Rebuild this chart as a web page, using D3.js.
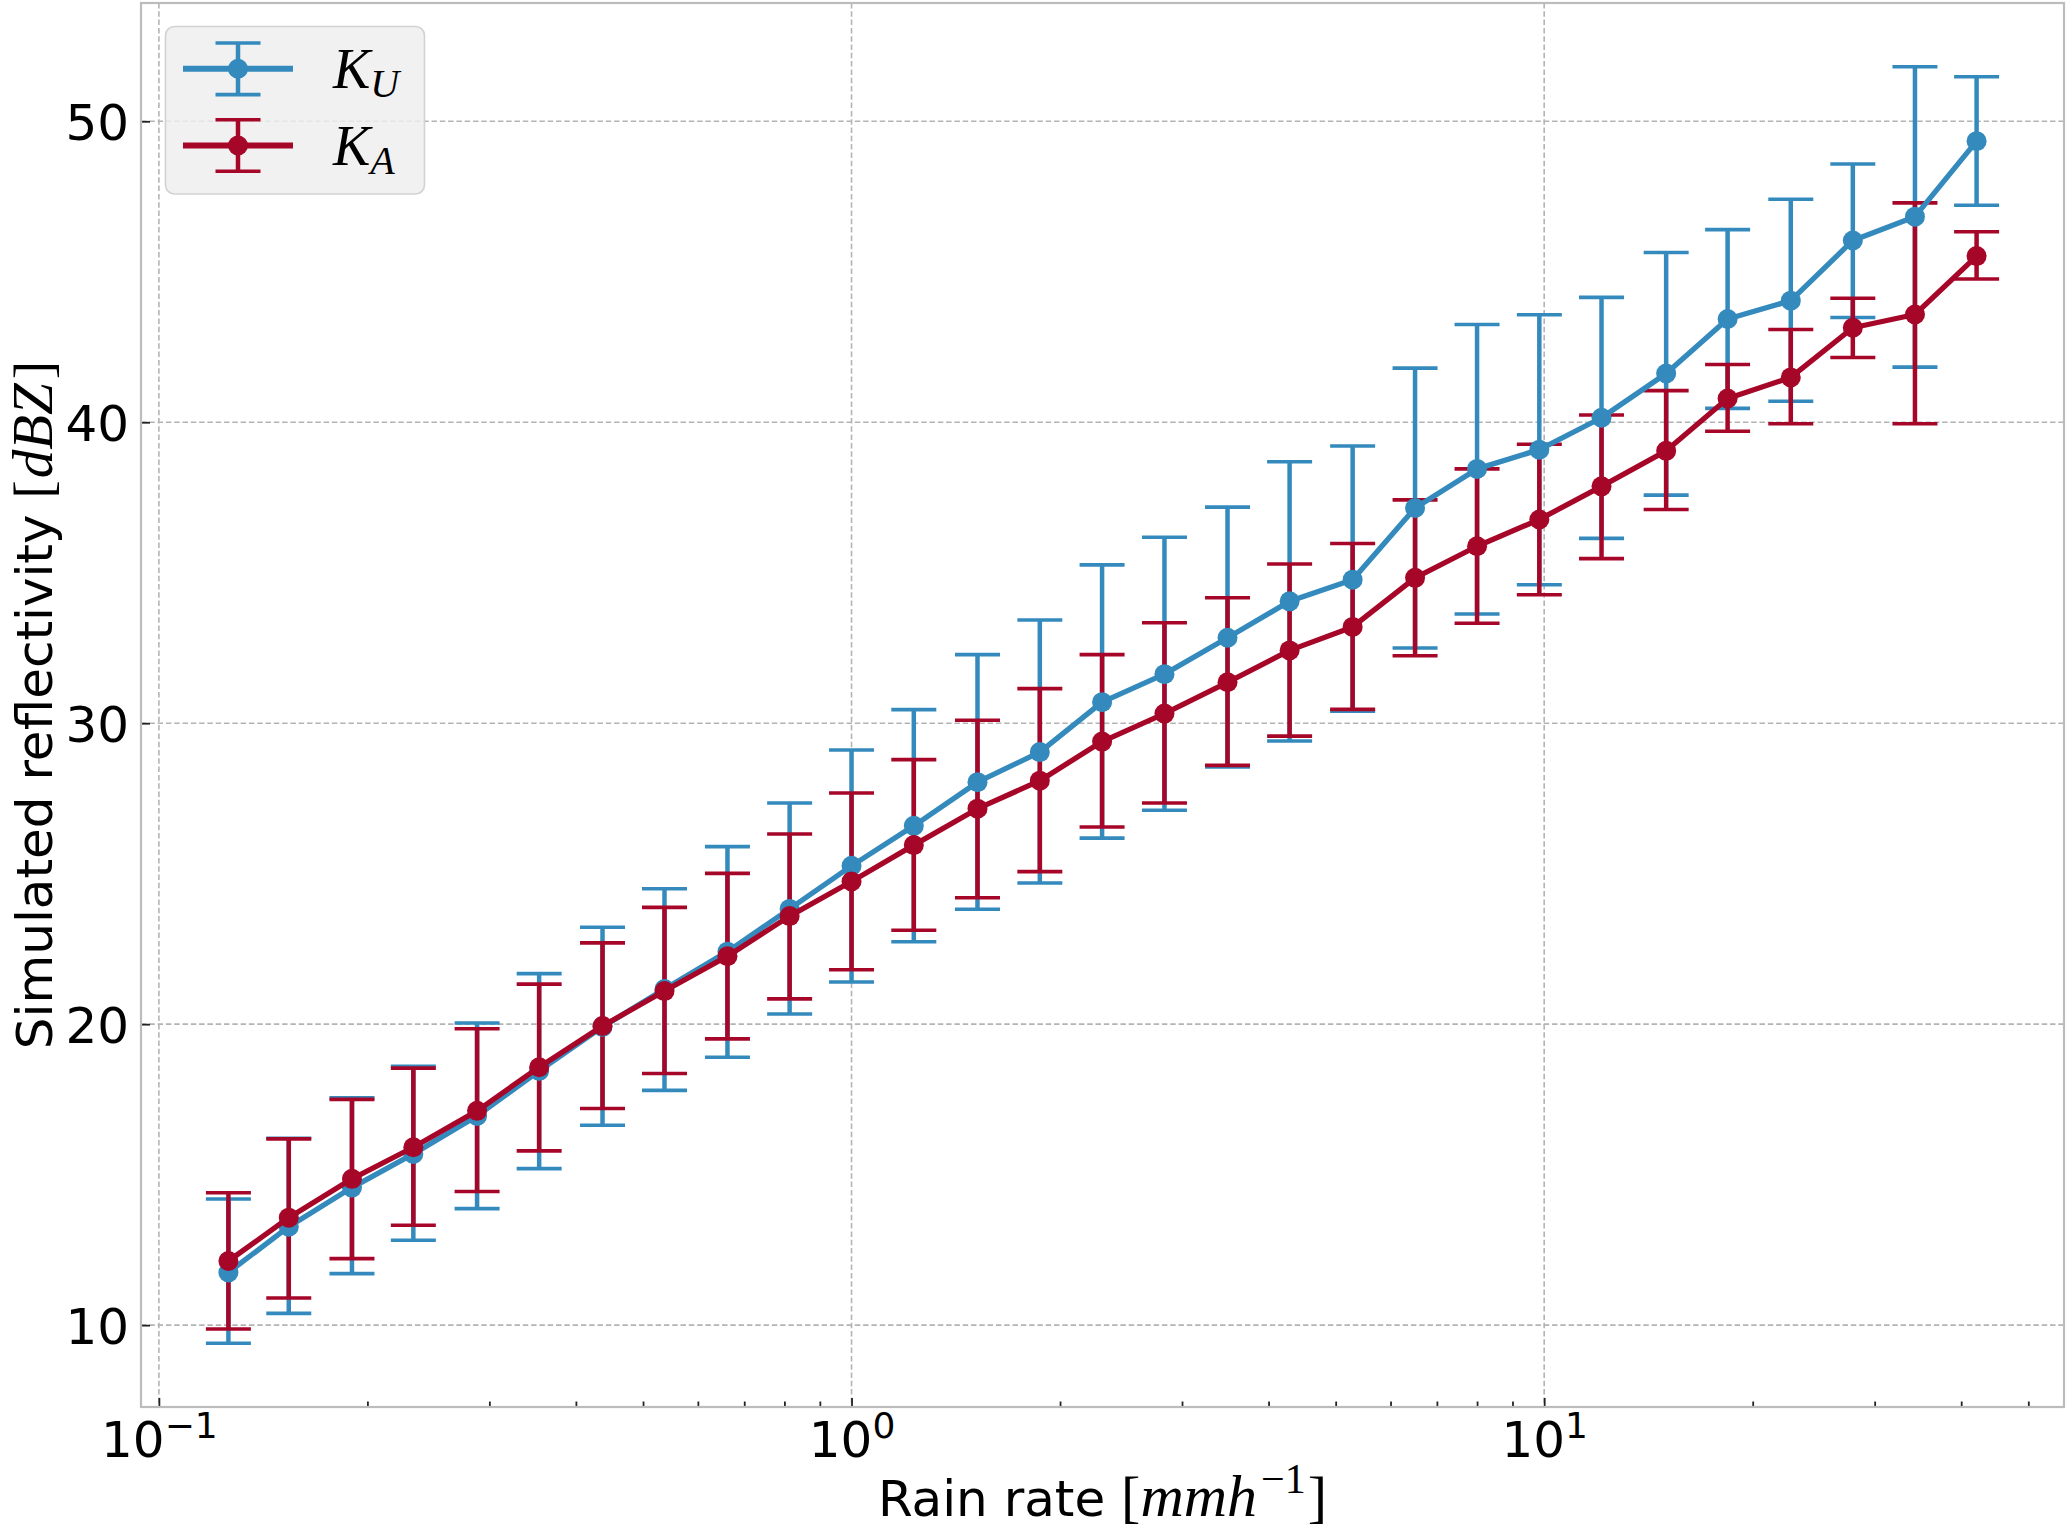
<!DOCTYPE html>
<html>
<head>
<meta charset="utf-8">
<script src="https://cdn.jsdelivr.net/npm/d3@7"></script>
<style>
  body { margin: 0; background: #fff; }
  svg { display: block; }
</style>
</head>
<body>
<div id="chart"></div>
<script>
// Simulated reflectivity vs rain rate, Ku and Ka band, mean with error bars

// rain rate bins [mm/h]
const rainRate = [0.126, 0.154, 0.190, 0.233, 0.288, 0.354, 0.437, 0.537, 0.662, 0.814,
  1.0, 1.23, 1.52, 1.87, 2.30, 2.83, 3.49, 4.29, 5.29, 6.51,
  8.0, 9.84, 12.1, 15.0, 18.4, 22.7, 27.9, 34.3, 42.1];

// K_U band [dBZ]
const kuMean = [11.75, 13.27, 14.57, 15.69, 16.95, 18.45, 19.91, 21.17, 22.41, 23.83,
  25.26, 26.59, 28.04, 29.04, 30.70, 31.63, 32.84, 34.05, 34.77, 37.15,
  38.45, 39.09, 40.15, 41.62, 43.43, 44.04, 46.04, 46.83, 49.34];
const kuHigh = [14.19, 16.21, 17.55, 18.60, 20.04, 21.68, 23.22, 24.50, 25.90, 27.35,
  29.11, 30.45, 32.28, 33.43, 35.26, 36.18, 37.18, 38.69, 39.21, 41.80,
  43.25, 43.57, 44.15, 45.64, 46.40, 47.41, 48.58, 51.81, 51.48];
const kuLow = [9.40, 10.39, 11.71, 12.82, 13.87, 15.20, 16.64, 17.80, 18.90, 20.34,
  21.40, 22.74, 23.82, 24.69, 26.18, 27.11, 28.55, 29.41, 30.40, 32.50,
  33.63, 34.60, 36.14, 37.58, 40.46, 40.70, 43.48, 41.83, 47.21];

// K_A band [dBZ]
const kaMean = [12.13, 13.57, 14.86, 15.91, 17.12, 18.57, 19.94, 21.10, 22.26, 23.59,
  24.74, 25.95, 27.16, 28.09, 29.39, 30.32, 31.36, 32.42, 33.20, 34.83,
  35.88, 36.77, 37.87, 39.05, 40.79, 41.49, 43.14, 43.58, 45.52];
const kaHigh = [14.40, 16.19, 17.50, 18.54, 19.85, 21.33, 22.70, 23.88, 25.01, 26.32,
  27.68, 28.79, 30.10, 31.15, 32.28, 33.34, 34.17, 35.29, 35.97, 37.42,
  38.45, 39.27, 40.24, 41.05, 41.92, 43.08, 44.12, 47.29, 46.33];
const kaLow = [9.87, 10.90, 12.21, 13.32, 14.44, 15.79, 17.20, 18.36, 19.51, 20.84,
  21.81, 23.12, 24.20, 25.07, 26.55, 27.35, 28.60, 29.57, 30.46, 32.24,
  33.32, 34.27, 35.47, 37.10, 39.70, 39.95, 42.15, 39.95, 44.76];

const seriesSub = ["U", "A"];
const yTicks = [10, 20, 30, 40, 50];
const xTicks = [0.1, 1, 10];
const xTickExp = ["\u22121", "0", "1"];

const W = 2067, H = 1531;
const plot = { left: 141, right: 2064, top: 3, bottom: 1407 };
const colors = ["#348ABD", "#A60628"];
const sans = "'DejaVu Sans', sans-serif";
const serif = "'Liberation Serif', 'DejaVu Serif', serif";

const series = [
  { sub: seriesSub[0], mean: kuMean, hi: kuHigh, lo: kuLow, color: colors[0] },
  { sub: seriesSub[1], mean: kaMean, hi: kaHigh, lo: kaLow, color: colors[1] }
];

const svg = d3.select("#chart").append("svg")
  .attr("width", W)
  .attr("height", H);

// autoscale with 5% margins, like matplotlib
const lx = d3.extent(rainRate).map(Math.log10);
const padX = (lx[1] - lx[0]) * 0.05;
const x = d3.scaleLog()
  .domain([Math.pow(10, lx[0] - padX), Math.pow(10, lx[1] + padX)])
  .range([plot.left, plot.right]);

const ly = d3.extent(kuHigh.concat(kuLow, kaHigh, kaLow));
const padY = (ly[1] - ly[0]) * 0.05;
const y = d3.scaleLinear()
  .domain([ly[0] - padY, ly[1] + padY])
  .range([plot.bottom, plot.top]);

// ===== GRID =====
const grid = svg.append("g")
  .attr("stroke", "#b4b4b4")
  .attr("stroke-width", 1.6)
  .attr("stroke-dasharray", "5.5,2.8");

grid.selectAll(".hg").data(yTicks).enter().append("line")
  .attr("x1", plot.left).attr("x2", plot.right)
  .attr("y1", d => y(d)).attr("y2", d => y(d));

grid.selectAll(".vg").data(xTicks).enter().append("line")
  .attr("y1", plot.top).attr("y2", plot.bottom)
  .attr("x1", d => x(d)).attr("x2", d => x(d));

// ===== AXES =====
const minorTicks = x.ticks().filter(d => xTicks.indexOf(d) < 0);

const xMinor = svg.append("g")
  .attr("transform", `translate(0,${plot.bottom})`)
  .call(d3.axisBottom(x).tickValues(minorTicks).tickSize(-5.5).tickFormat(() => ""));

const xMajor = svg.append("g")
  .attr("transform", `translate(0,${plot.bottom})`)
  .call(d3.axisBottom(x).tickValues(xTicks).tickSize(-9).tickPadding(14).tickFormat(() => ""));

xMajor.selectAll(".tick text")
  .attr("font-family", sans)
  .attr("font-size", 50)
  .attr("fill", "#000")
  .each(function(d, i) {
    const t = d3.select(this);
    t.append("tspan").text("10");
    t.append("tspan").attr("dy", -19).attr("font-size", 36).text(xTickExp[i]);
  });

const yAxis = svg.append("g")
  .attr("transform", `translate(${plot.left},0)`)
  .call(d3.axisLeft(y).tickValues(yTicks).tickSize(-9).tickPadding(12));

yAxis.selectAll(".tick text")
  .attr("font-family", sans)
  .attr("font-size", 50)
  .attr("fill", "#000")
  .attr("dy", "0.36em");

[xMinor, xMajor, yAxis].forEach(a => {
  a.select(".domain").remove();
  a.selectAll(".tick line").attr("stroke", "#222").attr("stroke-width", 1.8);
});

// spines
svg.append("rect")
  .attr("x", plot.left).attr("y", plot.top)
  .attr("width", plot.right - plot.left)
  .attr("height", plot.bottom - plot.top)
  .attr("fill", "none")
  .attr("stroke", "#bcbcbc")
  .attr("stroke-width", 2.2);

// ===== ERROR BARS =====
const capHalf = 22.5;
series.forEach(s => {
  const g = svg.append("g").attr("stroke", s.color);
  g.selectAll(".eb").data(rainRate).enter().append("line")
    .attr("x1", d => x(d)).attr("x2", d => x(d))
    .attr("y1", (d, i) => y(s.lo[i])).attr("y2", (d, i) => y(s.hi[i]))
    .attr("stroke-width", 4.5);
  g.selectAll(".capH").data(rainRate).enter().append("line")
    .attr("x1", d => x(d) - capHalf).attr("x2", d => x(d) + capHalf)
    .attr("y1", (d, i) => y(s.hi[i])).attr("y2", (d, i) => y(s.hi[i]))
    .attr("stroke-width", 3.6);
  g.selectAll(".capL").data(rainRate).enter().append("line")
    .attr("x1", d => x(d) - capHalf).attr("x2", d => x(d) + capHalf)
    .attr("y1", (d, i) => y(s.lo[i])).attr("y2", (d, i) => y(s.lo[i]))
    .attr("stroke-width", 3.6);
});

// ===== LINES + MARKERS =====
series.forEach(s => {
  const line = d3.line()
    .x(d => x(d))
    .y((d, i) => y(s.mean[i]));
  svg.append("path")
    .datum(rainRate)
    .attr("d", line)
    .attr("fill", "none")
    .attr("stroke", s.color)
    .attr("stroke-width", 5.3)
    .attr("stroke-linejoin", "round");
  svg.append("g").selectAll("circle").data(rainRate).enter().append("circle")
    .attr("cx", d => x(d))
    .attr("cy", (d, i) => y(s.mean[i]))
    .attr("r", 10)
    .attr("fill", s.color);
});

// ===== LEGEND =====
const legend = svg.append("g");
legend.append("rect")
  .attr("x", 165.5).attr("y", 26.5)
  .attr("width", 259).attr("height", 167.5)
  .attr("rx", 9)
  .attr("fill", "#eeeeee")
  .attr("fill-opacity", 0.82)
  .attr("stroke", "#d2d2d2")
  .attr("stroke-width", 1.6);

series.forEach((s, i) => {
  const cy = 68.8 + i * 76.7;
  const g = legend.append("g").attr("stroke", s.color);
  g.append("line").attr("x1", 183).attr("x2", 293).attr("y1", cy).attr("y2", cy).attr("stroke-width", 6);
  g.append("line").attr("x1", 238).attr("x2", 238).attr("y1", cy - 25.8).attr("y2", cy + 25.8).attr("stroke-width", 4.5);
  g.append("line").attr("x1", 238 - capHalf).attr("x2", 238 + capHalf).attr("y1", cy - 25.8).attr("y2", cy - 25.8).attr("stroke-width", 3.6);
  g.append("line").attr("x1", 238 - capHalf).attr("x2", 238 + capHalf).attr("y1", cy + 25.8).attr("y2", cy + 25.8).attr("stroke-width", 3.6);
  legend.append("circle").attr("cx", 238).attr("cy", cy).attr("r", 10).attr("fill", s.color);

  const t = legend.append("text")
    .attr("x", 333).attr("y", cy + 19.5)
    .attr("font-family", serif)
    .attr("font-style", "italic")
    .attr("font-size", 56)
    .attr("fill", "#000");
  t.append("tspan").text("K");
  t.append("tspan").attr("dy", 8.5).attr("font-size", 40).text(s.sub);
});

// ===== AXIS LABELS =====
const xl = svg.append("text")
  .attr("x", (plot.left + plot.right) / 2)
  .attr("y", 1516)
  .attr("text-anchor", "middle")
  .attr("font-family", sans)
  .attr("font-size", 50)
  .attr("fill", "#000");
xl.append("tspan").text("Rain rate ");
xl.append("tspan").attr("font-family", serif).attr("font-size", 58).text("[");
xl.append("tspan").attr("font-family", serif).attr("font-style", "italic").attr("font-size", 60).text("mmh");
xl.append("tspan").attr("font-family", serif).attr("font-size", 42).attr("dx", 4).attr("dy", -23).text("\u22121");
xl.append("tspan").attr("font-family", serif).attr("font-size", 58).attr("dx", 2).attr("dy", 23).text("]");

const yl = svg.append("text")
  .attr("transform", `translate(52,${(plot.top + plot.bottom) / 2}) rotate(-90)`)
  .attr("text-anchor", "middle")
  .attr("font-family", sans)
  .attr("font-size", 50)
  .attr("fill", "#000");
yl.append("tspan").text("Simulated reflectivity ");
yl.append("tspan").attr("font-family", serif).attr("font-size", 55).text("[");
yl.append("tspan").attr("font-family", serif).attr("font-style", "italic").attr("font-size", 57).attr("dx", 2).text("dBZ");
yl.append("tspan").attr("font-family", serif).attr("font-size", 55).attr("dx", 4).text("]");
</script>
</body>
</html>
